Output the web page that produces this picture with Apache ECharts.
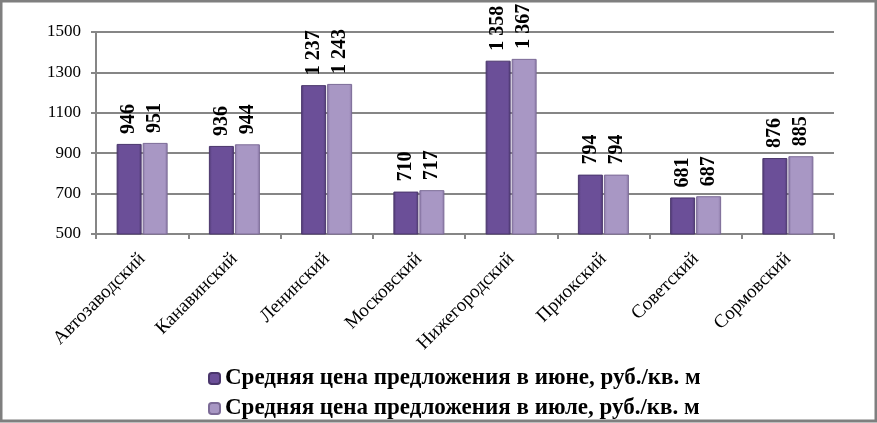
<!DOCTYPE html>
<html>
<head>
<meta charset="utf-8">
<script src="https://cdn.jsdelivr.net/npm/echarts@6/dist/echarts.min.js"></script>
<style>
    html, body { margin: 0; padding: 0; background: #fff; }
    #main { width: 877px; height: 423px; }
</style>
</head>
<body>
<div id="main"></div>
<script>
    // районы
    var districts = ['Автозаводский', 'Канавинский', 'Ленинский', 'Московский',
        'Нижегородский', 'Приокский', 'Советский', 'Сормовский'];
    var juneValues = [946, 936, 1237, 710, 1358, 794, 681, 876];
    var julyValues = [951, 944, 1243, 717, 1367, 794, 687, 885];
    var seriesNames = ['Средняя цена предложения в июне, руб./кв. м',
        'Средняя цена предложения в июле, руб./кв. м'];

    var serif = '"Liberation Serif", "Times New Roman", serif';

    function fmt(v) {
        var s = String(v);
        return s.length > 3 ? s.slice(0, s.length - 3) + ' ' + s.slice(-3) : s;
    }

    function barFill(dark, mid) {
        return new echarts.graphic.LinearGradient(0, 0, 1, 0, [
            {offset: 0, color: dark},
            {offset: 0.12, color: mid},
            {offset: 0.88, color: mid},
            {offset: 1, color: dark}
        ]);
    }

    var myChart = echarts.init(document.getElementById('main'));

    var labelCfg = {
        show: true,
        position: 'top',
        rotate: 90,
        align: 'left',
        verticalAlign: 'middle',
        distance: 10,
        fontFamily: serif,
        fontSize: 20,
        fontWeight: 'bold',
        color: '#000',
        formatter: function (p) { return fmt(p.value); }
    };

    var legendText = {fontFamily: serif, fontSize: 23, fontWeight: 'bold', color: '#000'};

    var option = {
        animation: false,
        graphic: [{
            type: 'rect',
            shape: {x: 1, y: 1, width: 875, height: 420},
            style: {fill: 'none', stroke: '#7f7f7f', lineWidth: 3}
        }],
        grid: {left: 96, right: 43, top: 32, bottom: 189},
        // две строки легенды — по одной на серию
        legend: [{
            left: 203,
            top: 362,
            itemWidth: 11,
            itemHeight: 11,
            textStyle: legendText,
            data: [seriesNames[0]]
        }, {
            left: 203,
            top: 392,
            itemWidth: 11,
            itemHeight: 11,
            textStyle: legendText,
            data: [seriesNames[1]]
        }],
        xAxis: {
            type: 'category',
            data: districts,
            axisLine: {lineStyle: {color: '#868686', width: 2}},
            axisTick: {show: true, length: 5, lineStyle: {color: '#868686', width: 2}},
            axisLabel: {
                interval: 0,
                rotate: 45,
                margin: 22,
                fontFamily: serif,
                fontSize: 19,
                color: '#000'
            }
        },
        yAxis: {
            type: 'value',
            min: 500,
            max: 1500,
            interval: 200,
            axisLine: {show: true, lineStyle: {color: '#868686', width: 2}},
            axisTick: {show: true, length: 5, lineStyle: {color: '#868686', width: 2}},
            axisLabel: {
                fontFamily: serif, fontSize: 17, color: '#000', margin: 15,
                formatter: function (v) { return String(v); }
            },
            splitLine: {lineStyle: {color: '#868686', width: 2}}
        },
        series: [
            {
                name: seriesNames[0],
                type: 'bar',
                barWidth: 25,
                barGap: '4%',
                data: juneValues,
                itemStyle: {
                    color: barFill('#4f3a73', '#6b4f98'),
                    borderColor: '#4a366c',
                    borderWidth: 1
                },
                label: labelCfg
            },
            {
                name: seriesNames[1],
                type: 'bar',
                barWidth: 25,
                data: julyValues,
                itemStyle: {
                    color: barFill('#8a78a6', '#a897c4'),
                    borderColor: '#7c6b97',
                    borderWidth: 1
                },
                label: labelCfg
            }
        ]
    };

    myChart.setOption(option);
</script>
</body>
</html>
